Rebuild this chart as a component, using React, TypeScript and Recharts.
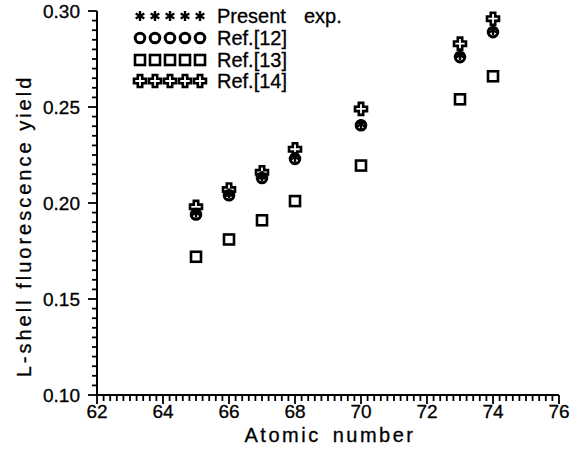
import { ScatterChart, Scatter, XAxis, YAxis, Label } from 'recharts';

const atomicNumbers = [65, 66, 67, 68, 70, 73, 74];
const presentExp = [0.195, 0.205, 0.214, 0.224, 0.241, 0.277, 0.290];
const ref12 = [0.194, 0.204, 0.213, 0.223, 0.2405, 0.276, 0.289];
const ref13 = [0.172, 0.181, 0.191, 0.201, 0.2195, 0.254, 0.266];
const ref14 = [0.198, 0.207, 0.216, 0.228, 0.249, 0.283, 0.296];

const xMajorTicks = [62, 64, 66, 68, 70, 72, 74, 76];
const yMajorTicks = [0.1, 0.15, 0.2, 0.25, 0.3];
const legendLabels = ['Present', 'Ref.[12]', 'Ref.[13]', 'Ref.[14]'];

const FONT = 'Arial, "Liberation Sans", Helvetica, sans-serif';

// minor ticks: every 0.2 on x, every 0.005 on y
const xTicks = Array.from({ length: 71 }, (_, i) => Math.round((62 + i * 0.2) * 10) / 10);
const yTicks = Array.from({ length: 41 }, (_, i) => Math.round((0.1 + i * 0.005) * 1000) / 1000);

const isMajor = (v: number, list: number[]) => list.some((m) => Math.abs(m - v) < 1e-6);

const toPoints = (vals: number[]) => atomicNumbers.map((z, i) => ({ z, v: vals[i] }));

function Star({ cx, cy }: any) {
  const r = 5;
  const a = r * Math.cos(Math.PI / 6);
  const b = r * Math.sin(Math.PI / 6);
  return (
    <g stroke="#000" strokeWidth={2.4}>
      <line x1={cx} y1={cy - r} x2={cx} y2={cy + r} />
      <line x1={cx - a} y1={cy - b} x2={cx + a} y2={cy + b} />
      <line x1={cx - a} y1={cy + b} x2={cx + a} y2={cy - b} />
    </g>
  );
}

function Ring({ cx, cy }: any) {
  return <circle cx={cx} cy={cy} r={4.8} fill="none" stroke="#000" strokeWidth={3} />;
}

function Box({ cx, cy }: any) {
  return <rect x={cx - 5} y={cy - 5} width={10} height={10} fill="none" stroke="#000" strokeWidth={2.6} />;
}

function Cross({ cx, cy }: any) {
  const s = 6;
  const h = 2.2;
  const pts = [
    [-h, -s], [h, -s], [h, -h], [s, -h], [s, h], [h, h],
    [h, s], [-h, s], [-h, h], [-s, h], [-s, -h], [-h, -h],
  ]
    .map(([dx, dy]) => `${cx + dx},${cy + dy}`)
    .join(' ');
  return <polygon points={pts} fill="none" stroke="#000" strokeWidth={2.6} />;
}

// tick props x/y sit at the end of the built-in tick line
function XTick(props: any) {
  const { x, y, payload } = props;
  const major = isMajor(payload.value, xMajorTicks);
  return (
    <g>
      {major && <line x1={x} y1={y} x2={x} y2={y + 3} stroke="#000" strokeWidth={1.8} />}
      {major && (
        <text x={x} y={y + 17} textAnchor="middle" fontSize={19} fontFamily={FONT} fill="#000" stroke="#000" strokeWidth={0.3}>
          {payload.value}
        </text>
      )}
    </g>
  );
}

function YTick(props: any) {
  const { x, y, payload } = props;
  const major = isMajor(payload.value, yMajorTicks);
  return (
    <g>
      {major && <line x1={x} y1={y} x2={x - 4} y2={y} stroke="#000" strokeWidth={1.8} />}
      {major && (
        <text x={x - 12} y={y + 7} textAnchor="end" fontSize={19} fontFamily={FONT} fill="#000" stroke="#000" strokeWidth={0.3}>
          {payload.value.toFixed(2)}
        </text>
      )}
    </g>
  );
}

const legendMarkers = [Star, Ring, Box, Cross];
const legendRows = [16, 38, 60, 81];

function LegendOverlay() {
  return (
    <svg width={578} height={100} style={{ position: 'absolute', left: 0, top: 0, pointerEvents: 'none' }}>
      {legendLabels.map((label, i) => {
        const M = legendMarkers[i];
        const y = legendRows[i];
        return (
          <g key={label}>
            {[0, 1, 2, 3, 4].map((k) => (
              <M key={k} cx={140 + k * 15} cy={y} />
            ))}
            <text x={217} y={y + 7} fontSize={20} fontFamily={FONT} fill="#000" stroke="#000" strokeWidth={0.3}>
              {label}
              {i === 0 && <tspan dx={18}>exp.</tspan>}
            </text>
          </g>
        );
      })}
    </svg>
  );
}

export default function App() {
  return (
    <div style={{ position: 'absolute', left: 0, top: 0, width: 578, height: 453, background: '#fff' }}>
      <ScatterChart width={578} height={453} margin={{ top: 11, right: 19, bottom: 0, left: 0 }}>
        <XAxis
          type="number"
          dataKey="z"
          domain={[62, 76]}
          ticks={xTicks}
          interval={0}
          tickSize={6}
          tickMargin={0}
          tickLine={{ stroke: '#000', strokeWidth: 1.8 }}
          stroke="#000"
          tick={(p: any) => <XTick {...p} />}
          height={58}
          axisLine={{ stroke: '#000', strokeWidth: 2 }}
        >
          <Label
            content={() => (
              <text x={330} y={442} textAnchor="middle" fontSize={20} fontFamily={FONT} fill="#000" stroke="#000" strokeWidth={0.3} letterSpacing={2.5}>
                Atomic
                <tspan dx={12}>number</tspan>
              </text>
            )}
          />
        </XAxis>
        <YAxis
          type="number"
          dataKey="v"
          domain={[0.1, 0.3]}
          ticks={yTicks}
          interval={0}
          tickSize={5}
          tickMargin={0}
          tickLine={{ stroke: '#000', strokeWidth: 1.8 }}
          stroke="#000"
          tick={(p: any) => <YTick {...p} />}
          width={97}
          axisLine={{ stroke: '#000', strokeWidth: 2 }}
        >
          <Label
            content={() => (
              <text
                x={31}
                y={226}
                transform="rotate(-90 31 226)"
                textAnchor="middle"
                fontSize={20}
                fontFamily={FONT}
                fill="#000"
                stroke="#000"
                strokeWidth={0.3}
                letterSpacing={3}
              >
                L-shell fluorescence yield
              </text>
            )}
          />
        </YAxis>
        <Scatter name="Ref.[13]" data={toPoints(ref13)} shape={(p: any) => <Box cx={p.cx} cy={p.cy} />} isAnimationActive={false} />
        <Scatter name="Ref.[12]" data={toPoints(ref12)} shape={(p: any) => <Ring cx={p.cx} cy={p.cy} />} isAnimationActive={false} />
        <Scatter name="Ref.[14]" data={toPoints(ref14)} shape={(p: any) => <Cross cx={p.cx} cy={p.cy} />} isAnimationActive={false} />
        <Scatter name="Present exp." data={toPoints(presentExp)} shape={(p: any) => <Star cx={p.cx} cy={p.cy} />} isAnimationActive={false} />
      </ScatterChart>
      <LegendOverlay />
    </div>
  );
}
